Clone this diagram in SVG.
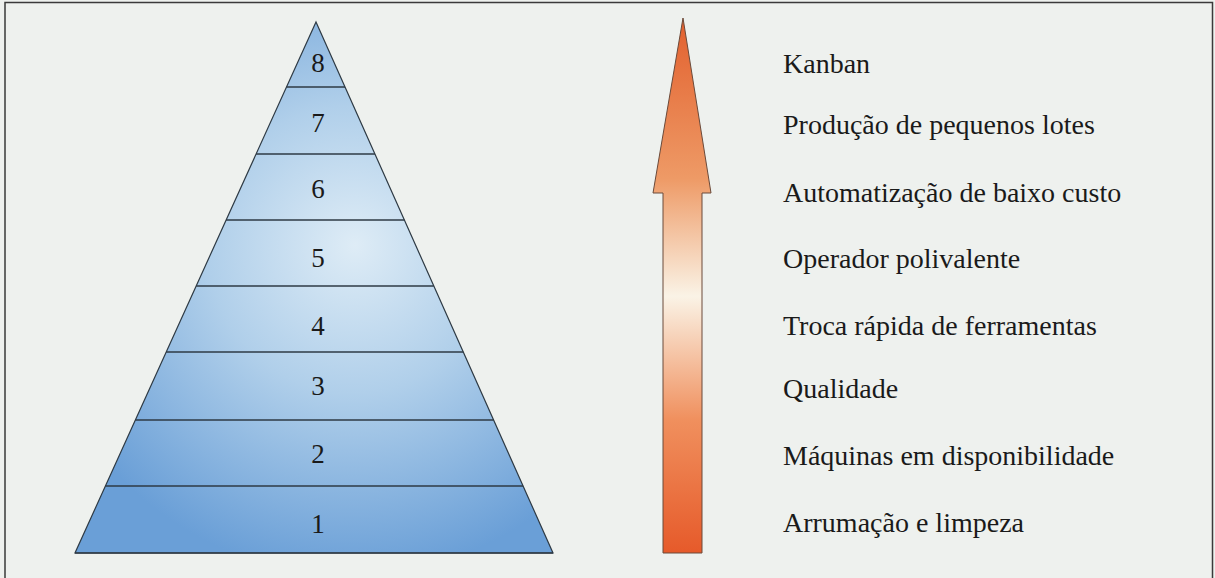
<svg xmlns="http://www.w3.org/2000/svg" width="1215" height="578" viewBox="0 0 1215 578">
<defs>
<radialGradient id="pyr" gradientUnits="userSpaceOnUse" cx="350" cy="255" r="320" fx="355" fy="245">
<stop offset="0" stop-color="#deecf6"/>
<stop offset="0.45" stop-color="#b0cfea"/>
<stop offset="1" stop-color="#6a9fd7"/>
</radialGradient>
<linearGradient id="arr" gradientUnits="userSpaceOnUse" x1="0" y1="18" x2="0" y2="553">
<stop offset="0" stop-color="#e2602e"/>
<stop offset="0.3" stop-color="#ee9a66"/>
<stop offset="0.52" stop-color="#faf3e6"/>
<stop offset="0.75" stop-color="#f0905e"/>
<stop offset="1" stop-color="#e65a2a"/>
</linearGradient>
<style>
.num{font-family:"Liberation Serif","Times New Roman",serif;font-size:27px;fill:#1a1a1a;text-anchor:middle}
.lbl{font-family:"Liberation Serif","Times New Roman",serif;font-size:28px;fill:#1a1a1a}
.band{stroke:#2e3a44;stroke-width:1.6;fill:none}
</style>
</defs>
<rect x="0" y="0" width="1215" height="578" fill="#eef1ee"/>
<path d="M5 580 L5 2.5 L1212.5 2.5 L1212.5 580" fill="none" stroke="#3a3a3a" stroke-width="1.5"/>
<g id="pyramid">
<polygon points="316,22 553,553 75,553" fill="url(#pyr)" stroke="#2e3a44" stroke-width="1.2"/>
<line class="band" x1="286.5" y1="87" x2="345" y2="87"/>
<line class="band" x1="256.1" y1="154" x2="374.9" y2="154"/>
<line class="band" x1="226.1" y1="220" x2="404.4" y2="220"/>
<line class="band" x1="196.2" y1="286" x2="433.8" y2="286"/>
<line class="band" x1="166.2" y1="352" x2="463.3" y2="352"/>
<line class="band" x1="135.3" y1="420" x2="493.6" y2="420"/>
<line class="band" x1="105.4" y1="486" x2="523.1" y2="486"/>
<line class="band" x1="75" y1="553" x2="553" y2="553"/>
</g>
<g id="level8"><text class="num" x="318" y="72">8</text><text class="lbl" x="783" y="73">Kanban</text></g>
<g id="level7"><text class="num" x="318" y="132">7</text><text class="lbl" x="783" y="134">Produção de pequenos lotes</text></g>
<g id="level6"><text class="num" x="318" y="198">6</text><text class="lbl" x="783" y="202">Automatização de baixo custo</text></g>
<g id="level5"><text class="num" x="318" y="267">5</text><text class="lbl" x="783" y="268">Operador polivalente</text></g>
<g id="level4"><text class="num" x="318" y="335">4</text><text class="lbl" x="783" y="335">Troca rápida de ferramentas</text></g>
<g id="level3"><text class="num" x="318" y="395">3</text><text class="lbl" x="783" y="398">Qualidade</text></g>
<g id="level2"><text class="num" x="318" y="463">2</text><text class="lbl" x="783" y="465">Máquinas em disponibilidade</text></g>
<g id="level1"><text class="num" x="318" y="533">1</text><text class="lbl" x="783" y="532">Arrumação e limpeza</text></g>
<g id="connectors">
<polygon points="683,18 711,193 702,193 702,553 663,553 663,193 653,193" fill="url(#arr)" stroke="#6a4a3a" stroke-width="1"/>
</g>
</svg>
